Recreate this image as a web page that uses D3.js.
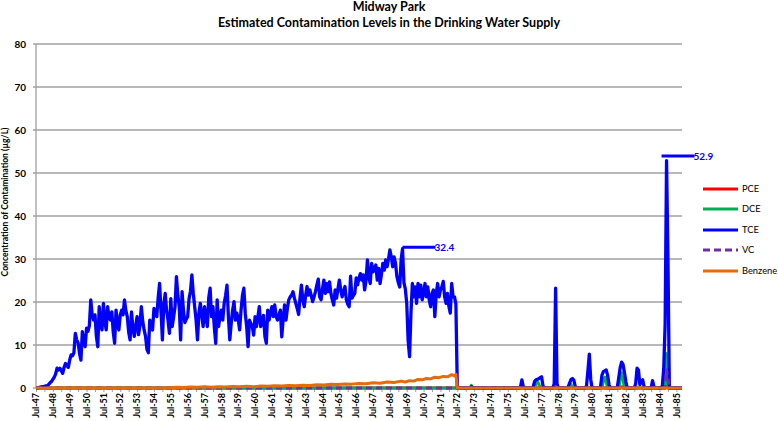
<!DOCTYPE html>
<html><head><meta charset="utf-8">
<script src="https://cdn.jsdelivr.net/npm/d3@7"></script>
<style>body{margin:0;background:#fff} svg{display:block}</style>
</head><body><svg id="c" width="778" height="421"></svg>
<script>
const titleLines = ["Midway Park", "Estimated Contamination Levels in the Drinking Water Supply"];
const yAxisTitle = "Concentration of Contamination (\u00b5g/L)";
const yTicks = [0, 10, 20, 30, 40, 50, 60, 70, 80];
const xTickLabels = ["Jul-47","Jul-48","Jul-49","Jul-50","Jul-51","Jul-52","Jul-53","Jul-54","Jul-55","Jul-56","Jul-57","Jul-58","Jul-59","Jul-60","Jul-61","Jul-62","Jul-63","Jul-64","Jul-65","Jul-66","Jul-67","Jul-68","Jul-69","Jul-70","Jul-71","Jul-72","Jul-73","Jul-74","Jul-75","Jul-76","Jul-77","Jul-78","Jul-79","Jul-80","Jul-81","Jul-82","Jul-83","Jul-84","Jul-85"];
// months since Jul-1947
const monthDomain = [0, 460];

// TCE monthly values, Jul-47 onward
const tceValues = [
0,0,0.1,0.2,0.3,0.3,0.4,0.5,0.5,0.8,
1.2,1.5,2,2.5,3.3,4.6,4.2,4.6,4.0,3.4,
4.8,5.7,5.2,4.8,6.5,7.7,7.5,8.2,12.7,11.2,
10.5,8.0,6.5,13.1,11.0,9.6,13.9,13.2,14.5,20.5,
17.0,15.8,17.0,12.0,9.6,18.9,15.0,13.5,19.7,15.5,
13.5,18.9,16.5,15.8,17.7,13.0,10.4,18.1,15.0,13.5,
17.0,18.1,17.0,20.5,18.0,16.6,13.0,11.2,17.7,14.0,
12.0,14.5,16.6,12.4,14.5,18.9,15.5,13.5,12.0,9.0,
8.2,15.8,14.5,13.5,18.5,17.5,16.6,21.0,24.3,18.1,
11.2,19.5,22.0,18.0,15.8,12.7,20.8,14.3,16.5,18.9,
25.9,21.5,18.9,11.2,22.4,18.0,15.2,16.0,16.6,20.8,
22.5,26.3,22.0,18.9,15.8,11.2,17.4,19.7,17.0,14.3,
18.9,16.5,14.3,21.0,23.2,16.6,18.9,14.0,10.4,20.5,
14.3,16.5,18.1,15.8,19.7,21.5,23.9,16.6,11.2,15.0,
18.1,20.1,15.8,17.4,16.0,13.5,18.1,21.5,23.2,17.4,
14.3,9.6,15.8,15.0,14.3,12.3,16.6,14.3,16.5,18.9,
14.3,15.5,16.9,12.0,10.4,18.1,15.8,17.5,18.9,16.6,
19.3,16.6,15.8,17.0,18.1,11.9,16.0,19.3,15.8,18.5,
20.5,21.2,21.6,22.4,20.9,19.7,18.5,17.1,21.0,23.9,
20.5,18.9,21.5,23.6,21.6,22.8,21.5,20.1,21.2,22.4,
24.0,25.3,21.2,20.5,23.0,25.1,22.0,24.3,22.4,24.7,
22.0,20.5,19.3,22.8,20.9,23.0,25.1,22.8,21.2,22.5,
23.6,20.5,19.5,18.9,26.0,20.9,21.5,22.0,25.6,24.0,
25.6,26.6,25.1,26.3,22.8,25.0,29.8,25.9,24.3,29.0,
27.0,27.5,28.6,25.1,27.8,24.3,26.5,29.0,27.4,29.8,
28.2,30.0,32.1,30.5,28.2,30.5,29.0,25.9,24.5,23.5,
29.8,32.4,24.5,23.0,19.7,11.0,7.3,17.5,24.3,21.2,
23.5,19.7,24.3,21.2,23.9,20.5,22.0,24.3,21.2,23.5,
20.5,18.9,22.0,22.8,16.6,22.0,24.3,21.2,22.8,23.5,
24.8,21.2,19.7,22.0,19.0,17.4,24.3,21.2,21.2,19.5,
0,0,0,0,0,0,0,0,0,0,
0.3,0,0,0,0,0,0,0,0,0,
0,0,0,0,0,0,0,0,0,0,
0,0,0,0,0,0,0,0,0,0,
0,0,0,0,0,0.3,1.9,0.3,0,0,
0,0,0,0,0.2,1.5,1.9,2.0,2.2,2.4,
2.6,0.5,0,0,0,0,0,0,0,1.0,
23.2,1.0,0,0,0,0,0,0,0,0.3,
1.2,2.0,2.2,1.8,0.3,0,0,0,0,0,
0,0,0.5,4.0,7.9,2.0,0,0,0,0,
0,0,0.3,3.0,3.8,4.0,4.2,3.0,0.8,0,
0,0,0,0,0.3,2.5,4.8,6.0,5.5,3.6,
1.5,0,0,0,0,0,0,1.0,4.6,4.2,
0.8,1.5,1.9,0.3,0,0,0,0,0,1.7,
0.3,0,0,0,0,0,0.5,4.6,15.0,52.9,
30.0,0,0,0,0,0,0,0,0,0,
0
];

const benzeneMonths = [0,60,95,100,105,110,115,120,125,130,135,140,145,150,155,160,165,170,175,180,185,190,195,200,205,210,215,220,225,230,235,240,245,250,255,260,263,266,269,272,275,278,281,284,287,290,293,296,298,299,300,460];
const benzeneValues = [0,0,0.05,0.2,0.1,0.25,0.15,0.3,0.2,0.3,0.25,0.35,0.3,0.4,0.3,0.45,0.4,0.5,0.45,0.6,0.5,0.65,0.6,0.75,0.7,0.85,0.8,0.95,0.9,1.05,1.0,1.2,1.1,1.4,1.3,1.6,1.4,1.7,1.6,2.0,1.9,2.2,2.1,2.5,2.4,2.7,2.6,3.1,2.8,3.2,0,0];

const dceMonths = [0,309,310,311,355,356,357,358,359,380,381,382,403,404,405,406,407,415,416,417,418,419,448,449,450,451,460];
const dceValues = [0,0,0.6,0,0,1.0,1.5,1.0,0,0,0.8,0,0,1.5,2.5,1.5,0,0,2.0,3.5,2.0,0,0,8.0,1.0,0,0];

const pceMonths = [0,416,417,418,448,449,450,460];
const pceValues = [0,0,0.3,0,0,1.0,0,0];

const vcMonths = [0,369,370,371,416,417,418,448,449,450,451,460];
const vcValues = [0,0,0.4,0,0,0.5,0,0,4.2,2.0,0,0];

const peakMonths = [261, 449];
const peakValues = [32.4, 52.9];

const seriesNames = ["PCE", "DCE", "TCE", "VC", "Benzene"];
const seriesColors = ["#ff0000", "#00b050", "#0000ff", "#7030a0", "#e46c0a"];

const FONT = "Lato, 'Open Sans', sans-serif";
const svg = d3.select("#c");
const x = d3.scaleLinear().domain(monthDomain).range([36, 682]);
const y = d3.scaleLinear().domain([0, 80]).range([388, 44]);

// title
svg.selectAll("text.title").data(titleLines).enter().append("text")
  .attr("x", 389).attr("y", (d, i) => 11 + i * 16)
  .attr("text-anchor", "middle").attr("font-family", FONT)
  .attr("font-weight", "bold").attr("font-size", 12.5).attr("fill", "#000").text(d => d);

// gridlines
svg.append("g").selectAll("line").data(yTicks).enter().append("line")
  .attr("x1", 33).attr("x2", 682).attr("y1", d => y(d)).attr("y2", d => y(d))
  .attr("stroke", "#a0a0a0").attr("stroke-width", 1.3);
svg.append("line").attr("x1", 36).attr("x2", 36).attr("y1", y(80)).attr("y2", y(0))
  .attr("stroke", "#a0a0a0").attr("stroke-width", 1.3);

// y axis labels
const yAxis = d3.axisLeft(y).tickValues(yTicks).tickSize(0).tickPadding(10);
const gy = svg.append("g").attr("transform", "translate(36,0)").call(yAxis);
gy.select(".domain").remove();
gy.selectAll("text").attr("font-family", FONT).attr("font-weight", "bold").attr("font-size", 10).attr("fill", "#000");

// x axis
const xTickMonths = xTickLabels.map((d, i) => i * 12);
const minorTicks = d3.range(0, 457, 6);
const gx = svg.append("g").attr("transform", "translate(0,388)")
  .call(d3.axisBottom(x).tickValues(minorTicks).tickSize(4).tickFormat(""));
gx.select(".domain").remove();
gx.selectAll("line").attr("stroke", "#a0a0a0");
svg.append("g").selectAll("text").data(xTickLabels).enter().append("text")
  .attr("transform", (d, i) => `translate(${x(xTickMonths[i])},393) rotate(-90)`)
  .attr("text-anchor", "end").attr("dy", "0.35em")
  .attr("font-family", FONT).attr("font-weight", "bold").attr("font-size", 9).attr("fill", "#000")
  .text(d => d);

// y title
svg.append("text").attr("transform", "translate(8,202) rotate(-90)")
  .attr("text-anchor", "middle").attr("font-family", FONT).attr("font-weight", "bold")
  .attr("font-size", 8.6).attr("fill", "#000").text(yAxisTitle);

// lines
const line = d3.line().x(d => x(d[0])).y(d => y(d[1]));
const zip = (ms, vs) => ms.map((m, i) => [m, vs[i]]);
const tceData = tceValues.map((v, i) => [i, v]);
const seriesData = [zip(pceMonths, pceValues), zip(dceMonths, dceValues), tceData, zip(vcMonths, vcValues), zip(benzeneMonths, benzeneValues)];
const plotG = svg.append("g");
seriesData.forEach((data, i) => {
  plotG.append("path").datum(data).attr("d", line)
    .attr("fill", "none").attr("stroke", seriesColors[i])
    .attr("stroke-width", i === 2 ? 3.3 : 3).attr("stroke-linejoin", "round")
    .attr("stroke-dasharray", seriesNames[i] === "VC" ? "6,4" : null);
});

// peak annotations
peakMonths.forEach((m, i) => {
  const ly = y(peakValues[i]) - (i === 1 ? 4.5 : 1.5);
  const x0 = x(m) - (i === 1 ? 5 : 0);
  const x1 = x0 + 33;
  plotG.append("line").attr("x1", x0).attr("x2", x1).attr("y1", ly).attr("y2", ly)
    .attr("stroke", "#0000ff").attr("stroke-width", 3);
  svg.append("text").attr("x", x1 - 1).attr("y", ly).attr("dy", "0.35em")
    .attr("font-family", FONT).attr("font-weight", "bold").attr("font-size", 10)
    .attr("fill", "#0000ff").text(peakValues[i]);
});

// legend
const legendY = [189, 209, 230, 250, 271];
const lg = svg.append("g");
seriesNames.forEach((n, i) => {
  lg.append("line").attr("x1", 703).attr("x2", 738).attr("y1", legendY[i]).attr("y2", legendY[i])
    .attr("stroke", seriesColors[i]).attr("stroke-width", 3)
    .attr("stroke-dasharray", n === "VC" ? "7,4" : null);
  lg.append("text").attr("x", 742).attr("y", legendY[i]).attr("dy", "0.35em")
    .attr("font-family", FONT).attr("font-size", 9.3).attr("fill", "#000").text(n);
});
</script></body></html>
